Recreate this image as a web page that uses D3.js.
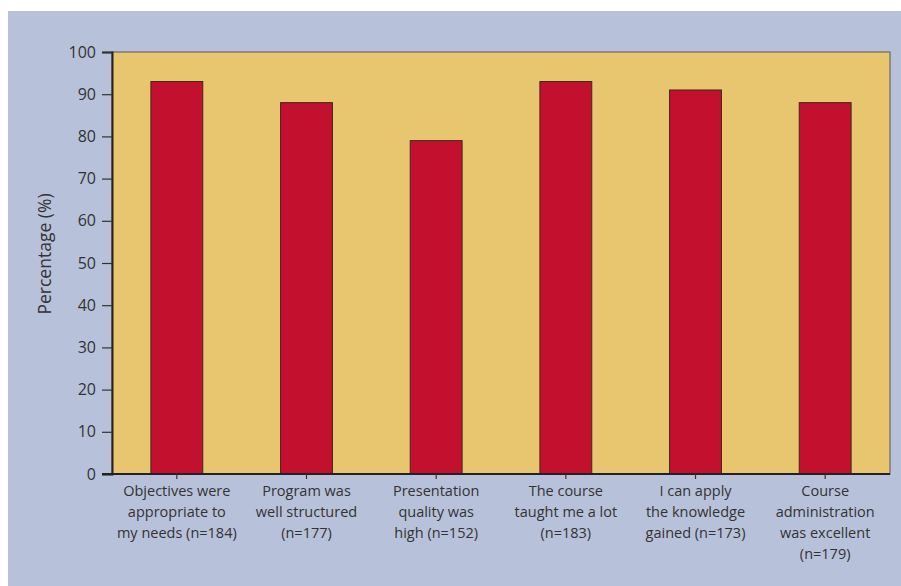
<!DOCTYPE html>
<html>
<head>
<meta charset="utf-8">
<script src="https://cdn.jsdelivr.net/npm/d3@7/dist/d3.min.js"></script>
<style>
  html, body { margin: 0; padding: 0; background: #ffffff; }
  svg { display: block; }
  text { font-family: "Open Sans", "Noto Sans", sans-serif; fill: #333333; }
</style>
</head>
<body>
<svg id="chart" width="901" height="586"></svg>
<script>
const categories = [
  ["Objectives were", "appropriate to", "my needs (n=184)"],
  ["Program was", "well structured", "(n=177)"],
  ["Presentation", "quality was", "high (n=152)"],
  ["The course", "taught me a lot", "(n=183)"],
  ["I can apply", "the knowledge", "gained (n=173)"],
  ["Course", "administration", "was excellent", "(n=179)"]
];
const values = [93, 88, 79, 93, 91, 88];
const yTicks = [0, 10, 20, 30, 40, 50, 60, 70, 80, 90, 100];
const yLabel = "Percentage (%)";

const svg = d3.select("#chart");
const margin = { left: 112, top: 52, right: 890, bottom: 474 };

svg.append("rect").attr("x", 8).attr("y", 11).attr("width", 893).attr("height", 575).attr("fill", "#b8c1da");

const x = d3.scaleBand().domain(d3.range(categories.length)).range([margin.left, margin.right]).paddingInner(0.6).paddingOuter(0.3);
const y = d3.scaleLinear().domain([0, 100]).range([margin.bottom, margin.top]);

svg.append("rect").attr("x", margin.left).attr("y", margin.top)
  .attr("width", margin.right - margin.left).attr("height", margin.bottom - margin.top)
  .attr("fill", "#e8c670").attr("stroke", "#6f6a5e").attr("stroke-width", 1.2);

svg.append("g").selectAll("rect").data(values).join("rect")
  .attr("x", (d, i) => x(i)).attr("width", x.bandwidth())
  .attr("y", d => y(d)).attr("height", d => y(0) - y(d))
  .attr("fill", "#c2102e").attr("stroke", "#3a2a22").attr("stroke-width", 1);

const yAxis = svg.append("g").attr("transform", `translate(${margin.left},0)`)
  .call(d3.axisLeft(y).tickValues(yTicks).tickSize(10).tickPadding(6));
yAxis.select(".domain").attr("stroke", "#222").attr("stroke-width", 2);
yAxis.selectAll(".tick line").attr("stroke", "#333").attr("stroke-width", 1.2);
yAxis.selectAll(".tick text").style("font-size", "16px").attr("fill", "#333");

const xAxis = svg.append("g").attr("transform", `translate(0,${margin.bottom})`)
  .call(d3.axisBottom(x).tickSize(5).tickFormat(""));
xAxis.select(".domain").attr("stroke", "#222").attr("stroke-width", 2).attr("d", `M${margin.left - 10},0H${margin.right}`);
xAxis.selectAll(".tick line").attr("stroke", "#333").attr("stroke-width", 1.2);

const lab = svg.append("g");
categories.forEach((lines, i) => {
  const t = lab.append("text").attr("text-anchor", "middle")
    .attr("x", x(i) + x.bandwidth() / 2).attr("y", 496).style("font-size", "14.5px");
  lines.forEach((ln, j) => t.append("tspan").attr("x", x(i) + x.bandwidth() / 2).attr("dy", j === 0 ? 0 : 21).text(ln));
});

svg.append("text").attr("transform", "translate(51,254) rotate(-90)")
  .attr("text-anchor", "middle").style("font-size", "17.5px").text(yLabel);
</script>
</body>
</html>
